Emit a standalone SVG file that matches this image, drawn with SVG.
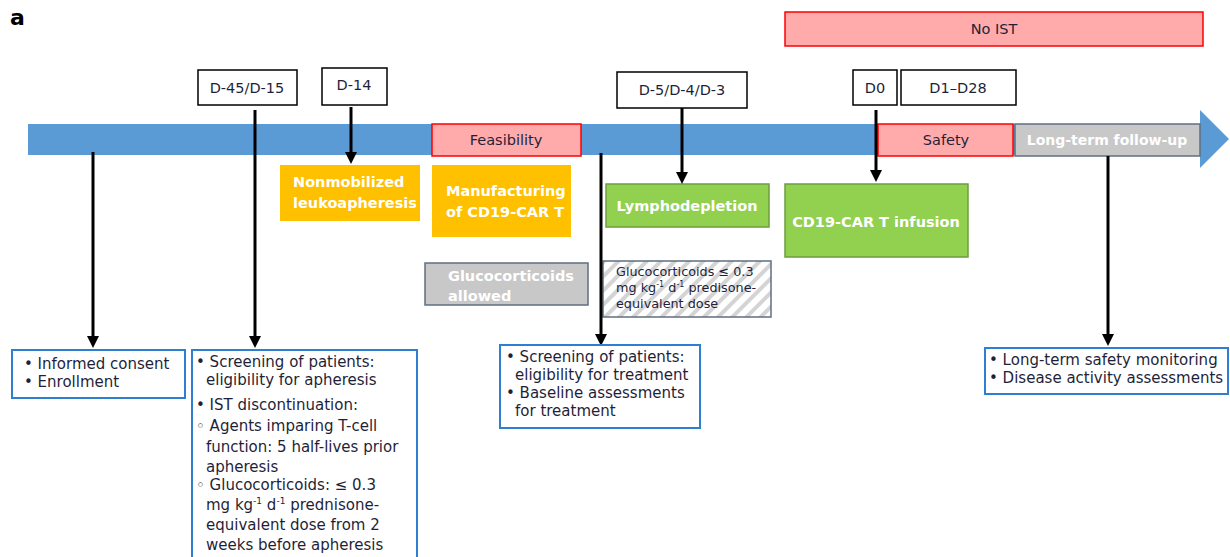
<svg xmlns="http://www.w3.org/2000/svg" width="1230" height="557" viewBox="0 0 1230 557">
<style>
text{font-family:"DejaVu Sans","Liberation Sans",sans-serif;}
.lbl{font-size:14.5px;fill:#1f1f3a;}
.wt{font-size:14.5px;fill:#ffffff;font-weight:700;}
.day{fill:#fff;stroke:#000;stroke-width:1.5;}
.red{fill:#ffabab;stroke:#ff0000;stroke-width:1.5;}
.orange{fill:#ffc000;}
.green{fill:#92d050;stroke:#6b9e3e;stroke-width:1.5;}
.gray{fill:#c8c8c8;stroke:#5f6f80;stroke-width:1.5;}
.info{fill:#fff;stroke:#2f7fd0;stroke-width:2;}
.conn{stroke:#000;stroke-width:3;fill:none;}
.txt{font-size:15px;fill:#1f1f3a;}
.sm{font-size:12.8px;fill:#1f1f3a;}
</style>
<defs>
<pattern id="hatch" patternUnits="userSpaceOnUse" width="10" height="10" patternTransform="rotate(45)">
<rect width="10" height="10" fill="#ffffff"/>
<rect width="4" height="10" fill="#d4d4d4"/>
</pattern>
</defs>
<rect width="1230" height="557" fill="#fff"/>
<text x="10" y="25" style="font-size:22px;font-weight:700;fill:#000">a</text>

<g id="timeline">
<rect x="28" y="124" width="1174" height="31" fill="#5b9bd5"/>
<polygon points="1200,110 1229,139 1200,168" fill="#5b9bd5"/>
</g>

<g id="no-ist"><rect class="red" x="785" y="12" width="418" height="34"/><text class="lbl" x="994" y="34" text-anchor="middle">No IST</text></g>

<g id="d45"><rect class="day" x="198" y="70" width="99" height="35"/><text class="lbl" x="247" y="93" text-anchor="middle">D-45/D-15</text></g>
<g id="d14"><rect class="day" x="322" y="68" width="65" height="37"/><text class="lbl" x="354" y="90" text-anchor="middle">D-14</text></g>
<g id="d5"><rect class="day" x="617" y="72" width="130" height="36"/><text class="lbl" x="682" y="95" text-anchor="middle">D-5/D-4/D-3</text></g>
<g id="d0"><rect class="day" x="853" y="70" width="44" height="35"/><text class="lbl" x="875" y="93" text-anchor="middle">D0</text></g>
<g id="d1"><rect class="day" x="901" y="70" width="115" height="35"/><text class="lbl" x="958" y="93" text-anchor="middle">D1–D28</text></g>

<g id="feasibility"><rect class="red" x="432" y="124" width="149" height="32"/><text class="lbl" x="506" y="145" text-anchor="middle">Feasibility</text></g>
<g id="safety"><rect class="red" x="878" y="124" width="135" height="32"/><text class="lbl" x="946" y="145" text-anchor="middle">Safety</text></g>
<g id="followup"><rect class="gray" x="1015" y="124" width="185" height="32"/><text class="wt" x="1107" y="145" text-anchor="middle" style="font-size:14px">Long-term follow-up</text></g>

<g id="leuko"><rect class="orange" x="280" y="165" width="140" height="56"/><text class="wt" x="293" y="187">Nonmobilized</text><text class="wt" x="293" y="208">leukoapheresis</text></g>
<g id="manufacturing"><rect class="orange" x="432" y="165" width="139" height="72"/><text class="wt" x="446" y="196">Manufacturing</text><text class="wt" x="446" y="217">of CD19-CAR T</text></g>
<g id="lympho"><rect class="green" x="606" y="184" width="163" height="43"/><text class="wt" x="687" y="211" text-anchor="middle">Lymphodepletion</text></g>
<g id="infusion"><rect class="green" x="785" y="184" width="183" height="73"/><text class="wt" x="876" y="227" text-anchor="middle">CD19-CAR T infusion</text></g>

<g id="gc-allowed"><rect class="gray" x="425" y="263" width="163" height="42"/><text class="wt" x="448" y="281">Glucocorticoids</text><text class="wt" x="448" y="301">allowed</text></g>
<g id="gc-limit"><rect x="603" y="261" width="168" height="56" fill="url(#hatch)" stroke="#5f6f80" stroke-width="1.5"/>
<text class="sm" x="616" y="276">Glucocorticoids ≤ 0.3</text>
<text class="sm" x="616" y="292">mg kg<tspan style="font-size:8px" dy="-5">-1</tspan><tspan dy="5"> d</tspan><tspan style="font-size:8px" dy="-5">-1</tspan><tspan dy="5"> predisone-</tspan></text>
<text class="sm" x="616" y="308">equivalent dose</text></g>

<g id="connectors">
<line class="conn" x1="93" y1="152" x2="93" y2="338"/><polygon points="87,336 99,336 93,348"/>
<line class="conn" x1="255" y1="110" x2="255" y2="338"/><polygon points="249,336 261,336 255,348"/>
<line class="conn" x1="351" y1="107" x2="351" y2="154"/><polygon points="345,152 357,152 351,164"/>
<line class="conn" x1="682" y1="108" x2="682" y2="174"/><polygon points="676,172 688,172 682,184"/>
<line class="conn" x1="601" y1="153" x2="601" y2="336"/><polygon points="595,334 607,334 601,346"/>
<line class="conn" x1="876" y1="110" x2="876" y2="172"/><polygon points="870,170 882,170 876,182"/>
<line class="conn" x1="1108" y1="156" x2="1108" y2="336"/><polygon points="1102,334 1114,334 1108,346"/>
</g>

<g id="consent"><rect class="info" x="12" y="350" width="173" height="48"/>
<text class="txt" x="24" y="369">• Informed consent</text><text class="txt" x="24" y="387">• Enrollment</text></g>

<g id="screening-apheresis"><rect class="info" x="192" y="350" width="225" height="212"/>
<text class="txt" x="196" y="367">• Screening of patients:</text>
<text class="txt" x="206" y="385">eligibility for apheresis</text>
<text class="txt" x="196" y="410">• IST discontinuation:</text>
<text class="txt" x="196" y="431">◦ Agents imparing T-cell</text>
<text class="txt" x="206" y="452">function: 5 half-lives prior</text>
<text class="txt" x="206" y="472">apheresis</text>
<text class="txt" x="196" y="490">◦ Glucocorticoids: ≤ 0.3</text>
<text class="txt" x="206" y="510">mg kg<tspan style="font-size:9px" dy="-6">-1</tspan><tspan dy="6"> d</tspan><tspan style="font-size:9px" dy="-6">-1</tspan><tspan dy="6"> prednisone-</tspan></text>
<text class="txt" x="206" y="530">equivalent dose from 2</text>
<text class="txt" x="206" y="550">weeks before apheresis</text></g>

<g id="screening-treatment"><rect class="info" x="500" y="345" width="200" height="83"/>
<text class="txt" x="506" y="362">• Screening of patients:</text>
<text class="txt" x="515" y="380">eligibility for treatment</text>
<text class="txt" x="506" y="398">• Baseline assessments</text>
<text class="txt" x="515" y="416">for treatment</text></g>

<g id="longterm"><rect class="info" x="985" y="348" width="243" height="46"/>
<text class="txt" x="989" y="365">• Long-term safety monitoring</text>
<text class="txt" x="989" y="383">• Disease activity assessments</text></g>
</svg>
